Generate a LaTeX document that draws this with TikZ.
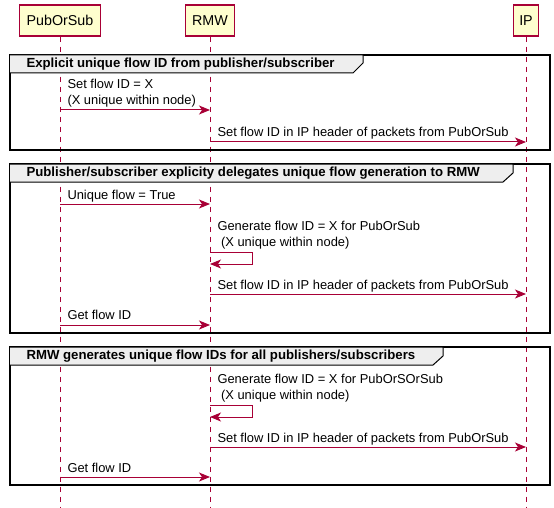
\documentclass[tikz,border=0pt]{standalone}
\usepackage{fontspec}
\setmainfont{Liberation Sans}
\usetikzlibrary{arrows.meta}
\definecolor{umlred}{HTML}{A80036}
\definecolor{umlyellow}{HTML}{FEFECE}
\definecolor{framegray}{HTML}{EEEEEE}
\begin{document}
\begin{tikzpicture}[x=1pt,y=-1pt,line width=1pt]
\newcommand{\msgfont}{\fontsize{12.9}{16}\selectfont}
\newcommand{\lx}{7}
\tikzset{
  actor/.style={draw=umlred,fill=umlyellow,line width=1.2pt,minimum height=31pt,
    inner xsep=7pt,font=\fontsize{14.3}{16}\selectfont},
  lifeline/.style={draw=umlred,dash pattern=on 5pt off 5pt,line width=0.9pt},
  msg/.style={draw=umlred,-{Stealth[length=11pt,width=9pt,inset=3pt]}},
  msgtext/.style={anchor=base west,inner sep=0pt,align=left,font=\msgfont},
  grp/.style={draw=black,line width=2pt},
  grptab/.style={draw=black,line width=1pt,fill=framegray},
  grptext/.style={anchor=west,inner sep=0pt,font=\fontsize{13.2}{16}\selectfont\bfseries}
}
\useasboundingbox (0,0) rectangle (554,508);
% participants
\node[actor] (PubOrSub) at (60,20.5) {PubOrSub};
\node[actor] (RMW) at (210,20.5) {RMW};
\node[actor,inner xsep=6pt] (IP) at (526,20.5) {IP};
\coordinate (PubOrSub_end) at (60,508);
\coordinate (RMW_end) at (210,508);
\coordinate (IP_end) at (526,508);
\draw[lifeline] (PubOrSub) -- (PubOrSub_end);
\draw[lifeline] (RMW) -- (RMW_end);
\draw[lifeline] (IP) -- (IP_end);
% group 1
\draw[grp] (10,55) rectangle (550,150);
\draw[grptab] (10,55) -- (363,55) -- (363,63) -- (353,73) -- (10,73);
\node[grptext] (g1) at (26,64) {Explicit unique flow ID from publisher/subscriber};
\node[msgtext] (t1) at (60+\lx,105) {Set flow ID = X\\(X unique within node)};
\draw[msg] (PubOrSub |- 0,110) -- (RMW |- 0,110);
\node[msgtext] (t2) at (210+\lx,136) {Set flow ID in IP header of packets from PubOrSub};
\draw[msg] (RMW |- 0,142) -- (IP |- 0,142);
% group 2
\draw[grp] (10,164) rectangle (550,333);
\draw[grptab] (10,164) -- (513,164) -- (513,173) -- (503,182) -- (10,182);
\node[grptext] (g2) at (26,173) {Publisher/subscriber explicity delegates unique flow generation to RMW};
\node[msgtext] (t3) at (60+\lx,199) {Unique flow = True};
\draw[msg] (PubOrSub |- 0,204) -- (RMW |- 0,204);
\node[msgtext] (t4) at (210+\lx,246) {Generate flow ID = X for PubOrSub\\\ (X unique within node)};
\draw[msg] (RMW |- 0,252) -- (252,252) -- (252,264) -- (RMW |- 0,264);
\node[msgtext] (t5) at (210+\lx,289) {Set flow ID in IP header of packets from PubOrSub};
\draw[msg] (RMW |- 0,294) -- (IP |- 0,294);
\node[msgtext] (t6) at (60+\lx,319) {Get flow ID};
\draw[msg] (PubOrSub |- 0,325) -- (RMW |- 0,325);
% group 3
\draw[grp] (10,347) rectangle (550,485);
\draw[grptab] (10,347) -- (443,347) -- (443,356) -- (433,365) -- (10,365);
\node[grptext] (g3) at (26,356) {RMW generates unique flow IDs for all publishers/subscribers};
\node[msgtext] (t7) at (210+\lx,399) {Generate flow ID = X for PubOrSOrSub\\\ (X unique within node)};
\draw[msg] (RMW |- 0,405) -- (252,405) -- (252,417) -- (RMW |- 0,417);
\node[msgtext] (t8) at (210+\lx,442) {Set flow ID in IP header of packets from PubOrSub};
\draw[msg] (RMW |- 0,447) -- (IP |- 0,447);
\node[msgtext] (t9) at (60+\lx,472) {Get flow ID};
\draw[msg] (PubOrSub |- 0,477) -- (RMW |- 0,477);
\end{tikzpicture}
\end{document}
